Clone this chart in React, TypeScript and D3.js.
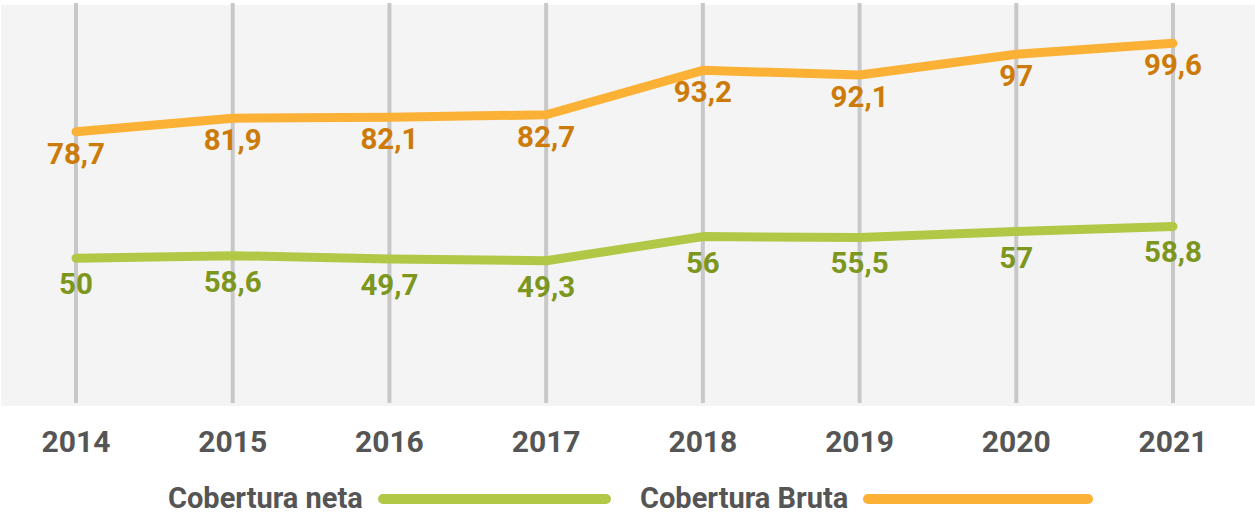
import React, { useEffect, useRef } from 'react';
import * as d3 from 'd3';

const years = ['2014', '2015', '2016', '2017', '2018', '2019', '2020', '2021'];
// values as drawn by the lines
const brutaValues = [78.7, 81.9, 82.1, 82.7, 93.2, 92.1, 97, 99.6];
const netaValues = [48.8, 49.4, 48.6, 48.2, 53.9, 53.7, 55.1, 56.3];
// labels as printed on the chart
const brutaLabels = ['78,7', '81,9', '82,1', '82,7', '93,2', '92,1', '97', '99,6'];
const netaLabels = ['50', '58,6', '49,7', '49,3', '56', '55,5', '57', '58,8'];
const seriesNames = ['Cobertura neta', 'Cobertura Bruta'];

function LineChart() {
  const svgRef = useRef<SVGSVGElement>(null);

  useEffect(() => {
    const width = 1255;
    const height = 514;
    const svg = d3.select(svgRef.current).attr('width', width).attr('height', height);
    svg.selectAll('*').remove();

    const font = 'Roboto, "Noto Sans", sans-serif';
    const orange = '#FBB135';
    const orangeText = '#CC7B08';
    const green = '#B1C847';
    const greenText = '#7C961E';

    const x = d3.scalePoint().domain(years).range([76, 1173]);
    const y = d3.scaleLinear().domain([0, 100]).range([464.6, 41.6]);

    svg.append('rect')
      .attr('x', 1).attr('y', 5)
      .attr('width', 1254).attr('height', 401)
      .attr('fill', '#F4F4F4');

    // vertical grid
    svg.selectAll('.grid')
      .data(years)
      .enter()
      .append('line')
      .attr('x1', d => x(d)!).attr('x2', d => x(d)!)
      .attr('y1', 3).attr('y2', 403)
      .attr('stroke', '#C8C8C8')
      .attr('stroke-width', 4);

    const line = d3.line<number>()
      .x((_, i) => x(years[i])!)
      .y(d => y(d));

    const series = [
      { values: netaValues, labels: netaLabels, color: green, textColor: greenText, dy: 36 },
      { values: brutaValues, labels: brutaLabels, color: orange, textColor: orangeText, dy: 32 },
    ];

    series.forEach(s => {
      svg.append('path')
        .datum(s.values)
        .attr('d', line)
        .attr('fill', 'none')
        .attr('stroke', s.color)
        .attr('stroke-width', 9)
        .attr('stroke-linecap', 'round')
        .attr('stroke-linejoin', 'round');

      svg.append('g')
        .selectAll('text')
        .data(s.values)
        .enter()
        .append('text')
        .attr('x', (_, i) => x(years[i])!)
        .attr('y', d => y(d) + s.dy)
        .attr('text-anchor', 'middle')
        .attr('font-family', font)
        .attr('font-weight', 'bold')
        .attr('font-size', 29.5)
        .attr('fill', s.textColor)
        .text((_, i) => s.labels[i]);
    });

    // x axis labels
    svg.append('g')
      .selectAll('text')
      .data(years)
      .enter()
      .append('text')
      .attr('x', d => x(d)!)
      .attr('y', 452)
      .attr('text-anchor', 'middle')
      .attr('font-family', font)
      .attr('font-weight', 'bold')
      .attr('font-size', 30)
      .attr('fill', '#555555')
      .text(d => d);

    // legend
    const legend = [
      { name: seriesNames[0], color: green, tx: 168, lx1: 383, lx2: 606 },
      { name: seriesNames[1], color: orange, tx: 640, lx1: 868, lx2: 1088 },
    ];
    legend.forEach(l => {
      svg.append('text')
        .attr('x', l.tx)
        .attr('y', 508)
        .attr('font-family', font)
        .attr('font-weight', 'bold')
        .attr('font-size', 29)
        .attr('fill', '#555555')
        .text(l.name);
      svg.append('line')
        .attr('x1', l.lx1).attr('x2', l.lx2)
        .attr('y1', 499).attr('y2', 499)
        .attr('stroke', l.color)
        .attr('stroke-width', 10)
        .attr('stroke-linecap', 'round');
    });
  }, []);

  return <svg ref={svgRef} style={{ position: 'absolute', left: 0, top: 0 }}></svg>;
}

export default function App() {
  return (
    <div>
      <LineChart />
    </div>
  );
}
